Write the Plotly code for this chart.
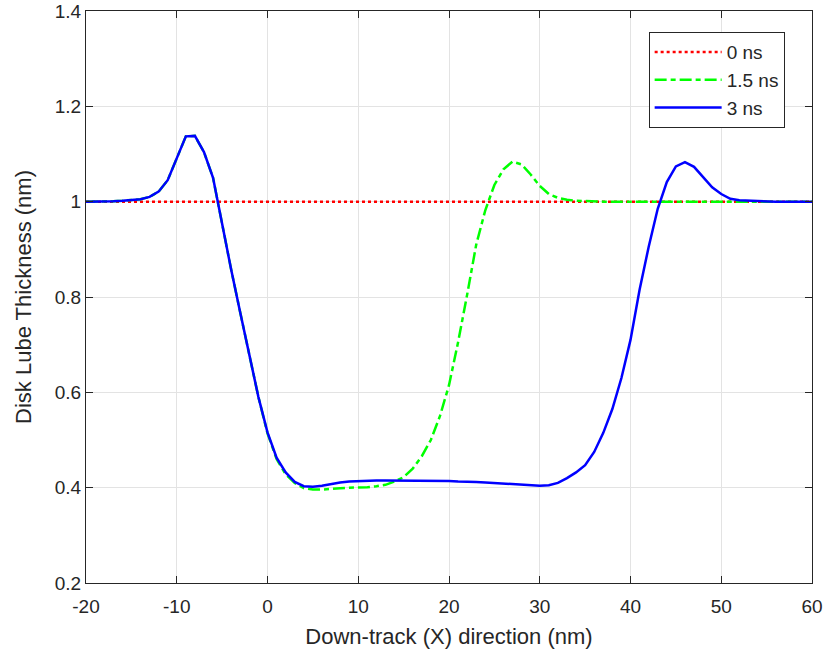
import plotly.graph_objects as go

x_nm = list(range(-20, 61))

t0_ns = [1.0] * 81

t3_ns = [1.000, 1.000, 1.001, 1.001, 1.002, 1.003, 1.005, 1.010, 1.021, 1.045,
         1.090, 1.137, 1.138, 1.104, 1.050, 0.950, 0.857, 0.767, 0.676, 0.590,
         0.516, 0.463, 0.432, 0.412, 0.403, 0.402, 0.404, 0.408, 0.411, 0.413,
         0.414, 0.415, 0.415, 0.415, 0.415, 0.415, 0.415, 0.415, 0.414, 0.414,
         0.414, 0.413, 0.413, 0.412, 0.411, 0.410, 0.409, 0.408, 0.406, 0.405,
         0.404, 0.405, 0.410, 0.420, 0.432, 0.447, 0.475, 0.515, 0.565, 0.630,
         0.710, 0.815, 0.905, 0.985, 1.041, 1.074, 1.083, 1.073, 1.052, 1.030,
         1.016, 1.006, 1.003, 1.002, 1.001, 1.000, 1.000, 1.000, 1.000, 1.000,
         1.000]

t15_ns = [1.000, 1.000, 1.001, 1.001, 1.002, 1.003, 1.005, 1.010, 1.021, 1.045,
          1.090, 1.137, 1.138, 1.104, 1.050, 0.950, 0.857, 0.767, 0.676, 0.590,
          0.514, 0.460, 0.428, 0.410, 0.399, 0.396, 0.396, 0.398, 0.399, 0.400,
          0.400, 0.401, 0.403, 0.406, 0.413, 0.422, 0.440, 0.466, 0.500, 0.550,
          0.615, 0.705, 0.805, 0.910, 0.982, 1.035, 1.068, 1.084, 1.078, 1.057,
          1.033, 1.016, 1.008, 1.004, 1.002, 1.001, 1.000, 1.000, 1.000, 1.000,
          1.000, 1.000, 1.000, 1.000, 1.000, 1.000, 1.000, 1.000, 1.000, 1.000,
          1.000, 1.000, 1.000, 1.000, 1.000, 1.000, 1.000, 1.000, 1.000, 1.000,
          1.000]

x_ticks = [-20, -10, 0, 10, 20, 30, 40, 50, 60]
y_ticks = [0.2, 0.4, 0.6, 0.8, 1.0, 1.2, 1.4]
y_ticktext = ["0.2", "0.4", "0.6", "0.8", "1", "1.2", "1.4"]

FONT = "Liberation Sans, Arial, sans-serif"

fig = go.Figure()
fig.add_trace(go.Scatter(x=x_nm, y=t0_ns, mode="lines", name="0 ns",
                         line=dict(color="#ff0000", width=2.5, dash="dot")))
fig.add_trace(go.Scatter(x=x_nm, y=t15_ns, mode="lines", name="1.5 ns",
                         line=dict(color="#00ff00", width=2.5, dash="12px,4px,5px,4px")))
fig.add_trace(go.Scatter(x=x_nm, y=t3_ns, mode="lines", name="3 ns",
                         line=dict(color="#0000ff", width=2.5)))

axis_common = dict(
    showgrid=True, gridcolor="#e3e3e3", gridwidth=1,
    showline=True, linecolor="#262626", linewidth=1, mirror="ticks",
    ticks="inside", ticklen=7, tickcolor="#262626",
    zeroline=False, automargin=False, ticklabeloverflow="allow",
    tickfont=dict(family=FONT, size=19, color="#262626"),
)

fig.update_layout(
    width=825, height=662,
    margin=dict(l=86, r=13, t=11, b=79),
    paper_bgcolor="white", plot_bgcolor="white",
    font=dict(family=FONT, size=19, color="#262626"),
    xaxis=dict(range=[-20, 60], tickvals=x_ticks, ticktext=[str(v) for v in x_ticks],
               ticklabelstandoff=6,
               title=dict(text="Down-track (X) direction (nm)", font=dict(size=22), standoff=12),
               **axis_common),
    yaxis=dict(range=[0.2, 1.4], tickvals=y_ticks, ticktext=y_ticktext,
               title=dict(text="Disk Lube Thickness (nm)", font=dict(size=22), standoff=17),
               **axis_common),
    legend=dict(x=0.775, y=0.963, xanchor="left", yanchor="top",
                bgcolor="white", bordercolor="#262626", borderwidth=1,
                font=dict(family=FONT, size=19), tracegroupgap=0, itemwidth=67),
    showlegend=True,
)

fig.write_html("out.html",
               config={"displayModeBar": False},
               post_script="document.body.style.margin='0px';document.body.style.overflow='hidden';")
